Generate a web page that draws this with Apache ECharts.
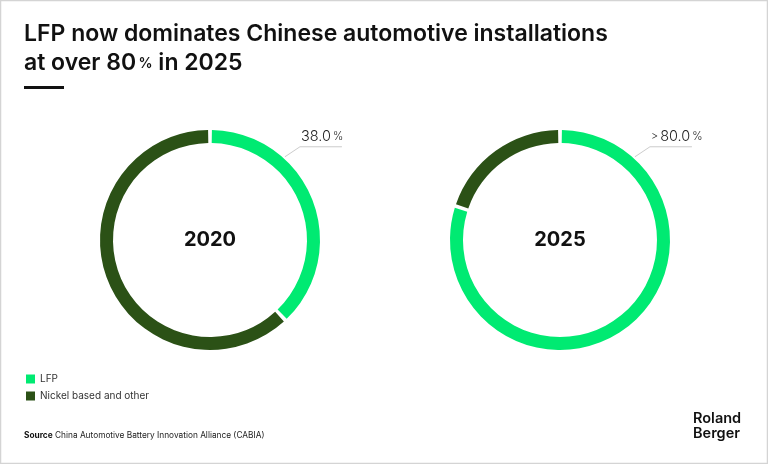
<!DOCTYPE html>
<html><head><meta charset="utf-8">
<script src="https://cdn.jsdelivr.net/npm/echarts@6/dist/echarts.min.js"></script>
<style>html,body{margin:0;padding:0;background:#fff}#c{width:768px;height:464px}</style>
</head><body><div id="c"></div>
<script>
const categories = ['LFP', 'Nickel based and other'];
const years = ['2020', '2025'];
const values2020 = [38, 62];
const values2025 = [80, 20];
const labelTexts = ['38.0', '80.0'];
const labelPrefixes = ['', '>'];

const colors = ['#00EA72', '#2B5116'];
const centers = [[210, 240], [560, 240]];
const R_IN = 97, R_OUT = 110;
const LINE_ANGLE = 42; // degrees clockwise from top where the label leader starts

const chart = echarts.init(document.getElementById('c'), null, {renderer: 'canvas'});

function makeSeries(idx, vals) {
  const c = centers[idx];
  const a = LINE_ANGLE * Math.PI / 180;
  const p0 = [c[0] + (R_OUT + 2) * Math.sin(a), c[1] - (R_OUT + 2) * Math.cos(a)];
  const p1 = [p0[0] + 15, p0[1] - 10];
  const p2 = [p1[0] + 42, p1[1]];
  const pre = labelPrefixes[idx] ? '{s|' + labelPrefixes[idx] + '\u2009}' : '';
  return {
    type: 'pie',
    name: years[idx],
    center: c,
    radius: [R_IN, R_OUT],
    startAngle: 90,
    clockwise: true,
    padAngle: 2,
    silent: true,
    data: vals.map((v, i) => ({
      name: categories[i],
      value: v,
      itemStyle: {color: colors[i]},
      label: i === 0 ? {
        show: true,
        formatter: pre + '{t|' + labelTexts[idx] + '}{p|\u2009%}',
        rich: {
          s: {fontFamily: 'Inter', fontSize: 11, fontWeight: 300, color: '#222'},
          t: {fontFamily: 'Inter', fontSize: 14.5, fontWeight: 300, color: '#222'},
          p: {fontFamily: 'Inter', fontSize: 11, fontWeight: 300, color: '#222'}
        }
      } : {show: false},
      labelLine: i === 0 ? {show: true} : {show: false}
    })),
    label: {position: 'outside'},
    labelLine: {lineStyle: {color: '#cccccc', width: 1}},
    labelLayout: function (params) {
      if (params.dataIndex !== 0) return {};
      return {
        x: p1[0] + 1, y: p1[1] - 10, align: 'left', verticalAlign: 'middle',
        labelLinePoints: [p0, p1, p2]
      };
    }
  };
}

const option = {
  backgroundColor: '#fff',
  animation: false,
  legend: {
    orient: 'vertical', left: 21, top: 369, itemWidth: 9, itemHeight: 9, itemGap: 7,
    icon: 'rect', data: categories,
    textStyle: {fontFamily: 'Inter', fontSize: 10, color: '#333'}
  },
  series: [makeSeries(0, values2020), makeSeries(1, values2025)],
  graphic: [
    {type: 'rect', shape: {x: 0.5, y: 0.5, width: 767, height: 463}, style: {fill: 'none', stroke: '#d4d4d4', lineWidth: 1.5}, silent: true},
    {type: 'text', left: 24, top: 20, style: {
      text: 'LFP now dominates Chinese automotive installations\n{a|at over 80}{p|\u2009%}{a| in 2025}',
      fontFamily: 'Inter', fontSize: 23, fontWeight: 600, fill: '#111', lineHeight: 29,
      rich: {a: {fontFamily: 'Inter', fontSize: 23, fontWeight: 600, fill: '#111', lineHeight: 29},
             p: {fontFamily: 'Inter', fontSize: 14, fontWeight: 600, fill: '#111', lineHeight: 29}}
    }},
    {type: 'rect', shape: {x: 24, y: 86, width: 40, height: 3}, style: {fill: '#111'}},
    {type: 'text', style: {x: centers[0][0], y: centers[0][1], text: years[0], align: 'center', verticalAlign: 'middle',
      fontFamily: 'Inter', fontSize: 20, fontWeight: 700, fill: '#111'}},
    {type: 'text', style: {x: centers[1][0], y: centers[1][1], text: years[1], align: 'center', verticalAlign: 'middle',
      fontFamily: 'Inter', fontSize: 20, fontWeight: 700, fill: '#111'}},
    {type: 'text', left: 24, top: 432, style: {
      text: '{b|Source} China Automotive Battery Innovation Alliance (CABIA)',
      fontFamily: 'Inter', fontSize: 8.3, fill: '#222',
      rich: {b: {fontFamily: 'Inter', fontSize: 8.3, fontWeight: 700, fill: '#111'}}
    }},
    {type: 'text', left: 693, top: 411, style: {
      text: 'Roland\nBerger', fontFamily: 'Inter', fontSize: 14.5, fontWeight: 600, fill: '#111', lineHeight: 15
    }}
  ]
};
chart.setOption(option);
</script></body></html>
